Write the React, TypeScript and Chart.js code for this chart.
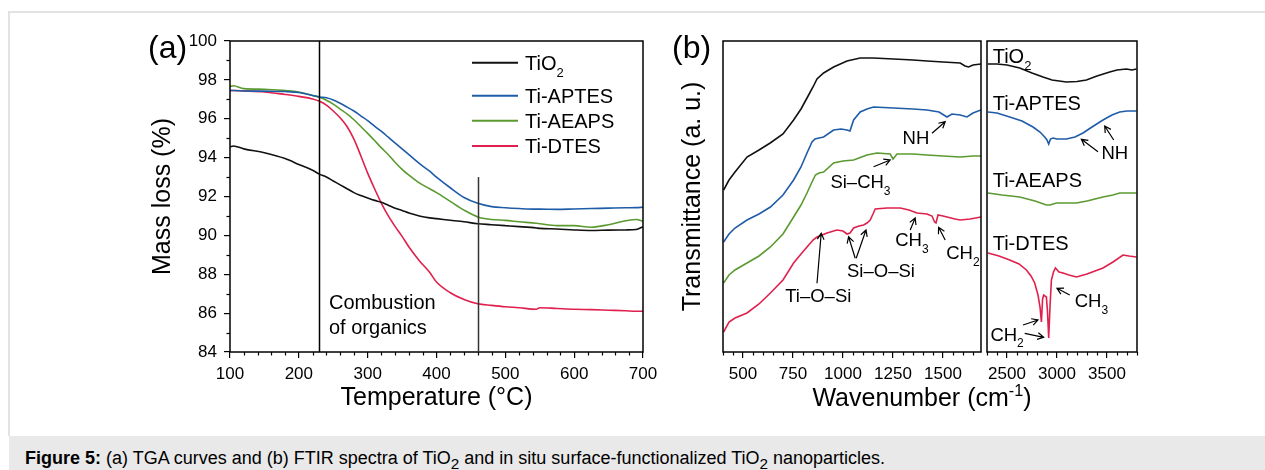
import React, { useEffect, useRef } from 'react';
import { Chart, registerables } from 'chart.js';

Chart.register(...registerables);

const FONT = "'Liberation Sans', Arial, Helvetica, sans-serif";
const C_BLACK = '#111111';
const C_BLUE = '#1f5ca8';
const C_GREEN = '#5b9a30';
const C_RED = '#e0204c';

// ---------------- (a) TGA data ----------------
const tgaTemp = [100, 105, 120, 150, 180, 200, 220, 230, 240, 250, 260, 270, 280, 290, 300, 310, 320, 330, 340, 350, 360, 375, 390, 400, 420, 440, 460, 480, 500, 520, 545, 550, 575, 600, 625, 650, 675, 690, 700];
const tgaTiO2 = [94.55, 94.6, 94.45, 94.25, 93.95, 93.65, 93.35, 93.15, 93.0, 92.8, 92.6, 92.4, 92.2, 92.05, 91.92, 91.8, 91.7, 91.55, 91.4, 91.28, 91.15, 91.0, 90.9, 90.86, 90.78, 90.7, 90.6, 90.55, 90.5, 90.45, 90.38, 90.36, 90.33, 90.28, 90.25, 90.27, 90.28, 90.3, 90.45];
const tgaAPTES = [97.45, 97.45, 97.43, 97.42, 97.4, 97.35, 97.2, 97.12, 97.08, 96.97, 96.8, 96.6, 96.4, 96.15, 95.9, 95.62, 95.35, 95.05, 94.75, 94.45, 94.15, 93.7, 93.3, 93.0, 92.45, 91.95, 91.65, 91.48, 91.42, 91.38, 91.35, 91.35, 91.34, 91.36, 91.38, 91.4, 91.42, 91.43, 91.45];
const tgaAEAPS = [97.65, 97.7, 97.55, 97.52, 97.45, 97.38, 97.2, 97.1, 96.95, 96.75, 96.5, 96.25, 95.95, 95.6, 95.25, 94.88, 94.5, 94.15, 93.75, 93.4, 93.1, 92.7, 92.4, 92.2, 91.75, 91.3, 90.95, 90.82, 90.77, 90.7, 90.62, 90.6, 90.5, 90.5, 90.42, 90.55, 90.75, 90.82, 90.72];
const tgaDTES = [97.45, 97.45, 97.43, 97.38, 97.25, 97.15, 97.02, 96.9, 96.7, 96.4, 96.05, 95.6, 94.95, 94.1, 93.2, 92.4, 91.65, 91.0, 90.45, 89.95, 89.4, 88.7, 88.1, 87.6, 87.05, 86.7, 86.48, 86.4, 86.33, 86.28, 86.2, 86.28, 86.24, 86.2, 86.18, 86.15, 86.12, 86.1, 86.1];
const tgaXTicks = [100, 200, 300, 400, 500, 600, 700];
const tgaYTicks = [84, 86, 88, 90, 92, 94, 96, 98, 100];
const combustionStart = 230;
const combustionEnd = 460;
const combustionEndTop = 93;
const tgaLegend = ['TiO2', 'Ti-APTES', 'Ti-AEAPS', 'Ti-DTES'];

// ---------------- (b) FTIR data (arbitrary units) ----------------
const wnL_TiO2 = [403, 430, 460, 520, 580, 636, 700, 753, 790, 820, 850, 870, 903, 953, 1020, 1086, 1150, 1253, 1350, 1420, 1500, 1586, 1610, 1628, 1650, 1690];
const trL_TiO2 = [162, 172, 180, 195, 202, 209, 218, 232, 243, 254, 265, 273, 279, 285, 291, 294, 294, 293, 292, 291, 290, 289, 286, 285, 287, 288];
const wnL_APTES = [403, 430, 460, 520, 580, 637, 700, 753, 790, 820, 845, 860, 880, 903, 953, 990, 1020, 1035, 1053, 1086, 1120, 1153, 1253, 1350, 1420, 1480, 1520, 1545, 1586, 1620, 1650, 1690];
const trL_APTES = [110, 118, 124, 132, 138, 145, 157, 172, 185, 199, 210, 213, 214, 215, 222, 223, 222, 221, 232, 240, 243, 245, 244, 243, 242, 240, 235, 238, 237, 235, 239, 242];
const wnL_AEAPS = [403, 430, 460, 520, 580, 637, 700, 753, 790, 820, 845, 862, 880, 903, 953, 1000, 1053, 1120, 1170, 1236, 1250, 1258, 1270, 1350, 1420, 1500, 1586, 1650, 1690];
const trL_AEAPS = [69, 77, 82, 89, 96, 105, 118, 135, 147, 159, 170, 177, 179, 180, 189, 191, 192, 197, 199, 198, 193, 195, 198, 198, 197, 196, 195, 196, 196];
const wnL_DTES = [403, 430, 460, 520, 580, 637, 700, 753, 790, 820, 850, 870, 920, 970, 1000, 1020, 1035, 1053, 1080, 1103, 1120, 1136, 1150, 1161, 1220, 1286, 1330, 1370, 1420, 1445, 1458, 1465, 1475, 1500, 1560, 1586, 1636, 1690];
const trL_DTES = [20, 30, 34, 39, 48, 59, 72, 89, 98, 105, 112, 115, 119, 122, 121, 118, 119, 124, 126, 127, 129, 132, 138, 143, 144, 144, 142, 139, 138, 136, 130, 129, 137, 136, 133, 132, 133, 135];

const wnR_TiO2 = [2310, 2400, 2500, 2627, 2750, 2860, 2950, 3094, 3200, 3294, 3400, 3527, 3600, 3694, 3750, 3794];
const trR_TiO2 = [288, 288, 287, 284, 279, 275, 272, 270, 270.5, 272, 276, 280, 282, 283, 282, 283];
const wnR_APTES = [2310, 2400, 2527, 2650, 2760, 2830, 2877, 2900, 2917, 2935, 2960, 3000, 3094, 3180, 3260, 3350, 3460, 3550, 3627, 3700, 3794];
const trR_APTES = [240, 239, 235, 231, 225, 220, 215, 212, 208, 213, 214, 213, 213, 215, 219, 225, 232, 237, 240, 241, 241];
const wnR_AEAPS = [2310, 2450, 2627, 2780, 2894, 2930, 2994, 3100, 3194, 3300, 3460, 3560, 3627, 3700, 3794];
const trR_AEAPS = [159, 157, 155, 151, 147, 147, 149, 149, 149, 151, 155, 157, 159, 159, 159];
const wnR_DTES = [2310, 2420, 2527, 2620, 2694, 2740, 2777, 2810, 2830, 2844, 2856, 2867, 2894, 2905, 2917, 2930, 2944, 2965, 2984, 3020, 3060, 3120, 3194, 3300, 3460, 3560, 3660, 3720, 3794];
const trR_DTES = [99, 96, 92, 88, 82, 76, 69, 57, 45, 30, 53, 57, 55, 40, 14, 45, 72, 80, 84, 80, 79, 77, 75, 78, 84, 90, 97, 96, 95];

const ftirLeftTicks = [500, 750, 1000, 1250, 1500];
const ftirRightTicks = [2500, 3000, 3500];
const ftirSeriesLabels = ['TiO2', 'Ti-APTES', 'Ti-AEAPS', 'Ti-DTES'];
const ftirSeriesLabelTr = [289.3, 242, 165.3, 102];

// annotations: [label, textWn, textTr, arrows [[wn1,tr1,wn2,tr2]...]]
const ftirLeftNotes: [string, number, number, number[][]][] = [
  ['NH', 1298, 208, [[1445, 218.7, 1511, 230.3]]],
  ['Si–CH3', 937, 163.7, [[1153, 185.3, 1236, 192]]],
  ['CH3', 1261, 106, [[1336, 122, 1361, 134]]],
  ['CH2', 1516, 92.7, [[1511, 112, 1478, 124.7]]],
  ['Si–O–Si', 1020, 74.7, [[1061, 93.7, 1028, 115.3], [1066, 93.7, 1115, 122]]],
  ['Ti–O–Si', 711, 50.3, [[870, 68.7, 891, 118.7]]],
];
const ftirRightNotes: [string, number, number, number[][]][] = [
  ['NH', 3444, 192.7, [[3410, 200.3, 3244, 212.7], [3567, 212, 3477, 226]]],
  ['CH3', 3177, 44.7, [[3127, 57, 3000, 63.7]]],
  ['CH2', 2334, 11.3, [[2660, 27, 2810, 32], [2677, 18.7, 2867, 14.7]]],
];

const seriesColors = [C_BLACK, C_BLUE, C_GREEN, C_RED];

function range(a: number, b: number, s: number) {
  const out: number[] = [];
  for (let v = a; v <= b + 1e-9; v += s) out.push(v);
  return out;
}

type Seg = { t: string; s?: 'sub' | 'sup' };
function chem(str: string): Seg[] {
  const segs: Seg[] = [];
  for (const ch of str) {
    const isDigit = /[0-9]/.test(ch);
    const last = segs[segs.length - 1];
    const kind = isDigit ? 'sub' : undefined;
    if (last && last.s === kind) last.t += ch;
    else segs.push({ t: ch, s: kind as any });
  }
  return segs;
}

function rich(ctx: CanvasRenderingContext2D, segs: Seg[], x: number, y: number, size: number, align: 'left' | 'center' = 'left', color = '#000') {
  const small = size * 0.65;
  const f = (sz: number) => `${sz}px ${FONT}`;
  let total = 0;
  const widths = segs.map((sg) => {
    ctx.font = f(sg.s ? small : size);
    const w = ctx.measureText(sg.t).width;
    total += w;
    return w;
  });
  let cx = align === 'center' ? x - total / 2 : x;
  ctx.fillStyle = color;
  ctx.textAlign = 'left';
  ctx.textBaseline = 'alphabetic';
  segs.forEach((sg, i) => {
    ctx.font = f(sg.s ? small : size);
    const dy = sg.s === 'sub' ? size * 0.36 : sg.s === 'sup' ? -size * 0.42 : 0;
    ctx.fillText(sg.t, cx, y + dy);
    cx += widths[i];
  });
}

function seg(ctx: CanvasRenderingContext2D, x1: number, y1: number, x2: number, y2: number) {
  ctx.beginPath();
  ctx.moveTo(x1, y1);
  ctx.lineTo(x2, y2);
  ctx.stroke();
}

function arrow(ctx: CanvasRenderingContext2D, x1: number, y1: number, x2: number, y2: number) {
  const a = Math.atan2(y2 - y1, x2 - x1);
  const L = 7;
  const sp = 0.5;
  ctx.beginPath();
  ctx.moveTo(x1, y1);
  ctx.lineTo(x2, y2);
  ctx.moveTo(x2 - L * Math.cos(a - sp), y2 - L * Math.sin(a - sp));
  ctx.lineTo(x2, y2);
  ctx.lineTo(x2 - L * Math.cos(a + sp), y2 - L * Math.sin(a + sp));
  ctx.stroke();
}

function ds(label: string, xs: number[], ys: number[], color: string, smooth = false) {
  return {
    label,
    data: xs.map((x, i) => ({ x, y: ys[i] })),
    borderColor: color,
    backgroundColor: color,
    borderWidth: 1.6,
    pointRadius: 0,
    tension: 0,
    cubicInterpolationMode: smooth ? 'monotone' : 'default',
    fill: false,
  };
}

const tickFont = { family: FONT, size: 17 };

function xAxis(min: number, max: number, major: number[], height: number, title?: string) {
  return {
    type: 'linear',
    bounds: 'data',
    min,
    max,
    afterBuildTicks: (s: any) => {
      s.ticks = major.map((v) => ({ value: v }));
    },
    afterFit: (s: any) => {
      s.height = height;
    },
    ticks: { autoSkip: false, maxRotation: 0, minRotation: 0, font: tickFont, color: '#000', padding: 6, callback: (v: any) => String(v) },
    grid: { display: true, drawOnChartArea: false, drawTicks: true, tickLength: 6, color: '#000', lineWidth: 1.2 },
    border: { display: false },
    title: title
      ? { display: true, text: title, color: '#000', font: { family: FONT, size: 25, lineHeight: 1 }, padding: { top: 0, bottom: 2 } }
      : { display: false },
  };
}

function yAxis(min: number, max: number, major: number[] | null, width: number, title?: string, titlePad = 0) {
  return {
    type: 'linear',
    bounds: 'data',
    min,
    max,
    afterBuildTicks: (s: any) => {
      s.ticks = (major || []).map((v) => ({ value: v }));
    },
    afterFit: (s: any) => {
      s.width = width;
    },
    ticks: { display: !!major, autoSkip: false, font: tickFont, color: '#000', padding: 7, callback: (v: any) => String(v) },
    grid: { display: !!major, drawOnChartArea: false, drawTicks: true, tickLength: 6, color: '#000', lineWidth: 1.2 },
    border: { display: false },
    title: title
      ? { display: true, text: title, color: '#000', font: { family: FONT, size: 25, lineHeight: 1 }, padding: { top: titlePad, bottom: 0 } }
      : { display: false },
  };
}

// Plugin: frame box + minor ticks + custom overlay drawing
function framePlugin(xMinor: number[], yMinor: number[], overlay: (ctx: CanvasRenderingContext2D, chart: any) => void) {
  return {
    id: 'frameOverlay',
    afterDraw(chart: any) {
      const { ctx, chartArea: a } = chart;
      ctx.save();
      ctx.strokeStyle = '#000';
      ctx.lineWidth = 1.5;
      ctx.strokeRect(a.left, a.top, a.right - a.left, a.bottom - a.top);
      ctx.lineWidth = 1.2;
      const xs = chart.scales.x;
      const ys = chart.scales.y;
      xMinor.forEach((v) => {
        const px = Math.round(xs.getPixelForValue(v)) + 0.5;
        seg(ctx, px, a.bottom, px, a.bottom + 3.5);
      });
      yMinor.forEach((v) => {
        const py = Math.round(ys.getPixelForValue(v)) + 0.5;
        seg(ctx, a.left - 3.5, py, a.left, py);
      });
      overlay(ctx, chart);
      ctx.restore();
    },
  };
}

function baseOptions(padding: any, scales: any) {
  return {
    responsive: false,
    maintainAspectRatio: false,
    animation: false,
    devicePixelRatio: 1,
    events: [],
    layout: { padding },
    plugins: { legend: { display: false }, tooltip: { enabled: false }, title: { display: false } },
    scales,
  };
}

function configA(): any {
  const overlay = (ctx: CanvasRenderingContext2D, chart: any) => {
    const xs = chart.scales.x;
    const ys = chart.scales.y;
    ctx.lineWidth = 1.5;
    ctx.strokeStyle = '#000';
    const x1 = Math.round(xs.getPixelForValue(combustionStart)) + 0.5;
    seg(ctx, x1, ys.getPixelForValue(100), x1, ys.getPixelForValue(84));
    ctx.strokeStyle = '#333';
    const x2 = Math.round(xs.getPixelForValue(combustionEnd)) + 0.5;
    seg(ctx, x2, ys.getPixelForValue(combustionEndTop), x2, ys.getPixelForValue(84));
    // legend
    const lineY = [62.7, 95.7, 120.7, 146];
    const baseY = [70, 102.7, 127.7, 152.7];
    tgaLegend.forEach((lab, i) => {
      ctx.strokeStyle = seriesColors[i];
      ctx.lineWidth = 2;
      seg(ctx, 472, lineY[i], 518, lineY[i]);
      rich(ctx, chem(lab), 525, baseY[i], 20);
    });
    rich(ctx, [{ t: 'Combustion' }], 329, 309.3, 20);
    rich(ctx, [{ t: 'of organics' }], 329, 334, 20);
    rich(ctx, [{ t: '(a)' }], 148, 58, 32);
  };
  return {
    type: 'line',
    data: {
      datasets: [
        ds('TiO2', tgaTemp, tgaTiO2, C_BLACK, true),
        ds('Ti-APTES', tgaTemp, tgaAPTES, C_BLUE, true),
        ds('Ti-AEAPS', tgaTemp, tgaAEAPS, C_GREEN, true),
        ds('Ti-DTES', tgaTemp, tgaDTES, C_RED, true),
      ],
    },
    options: baseOptions(
      { left: 150, right: 622, top: 41, bottom: 57 },
      {
        x: xAxis(100, 700, tgaXTicks, 61, 'Temperature (°C)'),
        y: yAxis(84, 100, tgaYTicks, 80, 'Mass loss (%)', 0.5),
      }
    ),
    plugins: [
      framePlugin(range(100, 700, 20).filter((v) => v % 100 !== 0), range(85, 99, 2), overlay),
    ],
  };
}

function drawNotes(ctx: CanvasRenderingContext2D, chart: any, notes: [string, number, number, number[][]][]) {
  const xs = chart.scales.x;
  const ys = chart.scales.y;
  ctx.strokeStyle = '#000';
  ctx.lineWidth = 1.2;
  notes.forEach(([lab, wn, tr, arrows]) => {
    rich(ctx, chem(lab), xs.getPixelForValue(wn), ys.getPixelForValue(tr), 18.5);
    arrows.forEach(([a, b, c, d]) => {
      arrow(ctx, xs.getPixelForValue(a), ys.getPixelForValue(b), xs.getPixelForValue(c), ys.getPixelForValue(d));
    });
  });
}

function configBL(): any {
  const overlay = (ctx: CanvasRenderingContext2D, chart: any) => {
    drawNotes(ctx, chart, ftirLeftNotes);
    rich(ctx, [{ t: '(b)' }], 672, 58, 32);
    rich(ctx, [{ t: 'Wavenumber (cm' }, { t: '-1', s: 'sup' }, { t: ')' }], 922, 406, 25, 'center');
  };
  return {
    type: 'line',
    data: {
      datasets: [
        ds('TiO2', wnL_TiO2, trL_TiO2, C_BLACK),
        ds('Ti-APTES', wnL_APTES, trL_APTES, C_BLUE),
        ds('Ti-AEAPS', wnL_AEAPS, trL_AEAPS, C_GREEN),
        ds('Ti-DTES', wnL_DTES, trL_DTES, C_RED),
      ],
    },
    options: baseOptions(
      { left: 678, right: 284, top: 41, bottom: 62 },
      {
        x: xAxis(400, 1690, ftirLeftTicks, 56),
        y: yAxis(0, 311, null, 45, 'Transmittance (a. u.)', 2.5),
      }
    ),
    plugins: [framePlugin(range(400, 1650, 50).filter((v) => v % 250 !== 0), [], overlay)],
  };
}

function configBR(): any {
  const overlay = (ctx: CanvasRenderingContext2D, chart: any) => {
    const xs = chart.scales.x;
    const ys = chart.scales.y;
    ftirSeriesLabels.forEach((lab, i) => {
      rich(ctx, chem(lab), xs.getPixelForValue(2357), ys.getPixelForValue(ftirSeriesLabelTr[i]), 20);
    });
    drawNotes(ctx, chart, ftirRightNotes);
  };
  return {
    type: 'line',
    data: {
      datasets: [
        ds('TiO2', wnR_TiO2, trR_TiO2, C_BLACK),
        ds('Ti-APTES', wnR_APTES, trR_APTES, C_BLUE),
        ds('Ti-AEAPS', wnR_AEAPS, trR_AEAPS, C_GREEN),
        ds('Ti-DTES', wnR_DTES, trR_DTES, C_RED),
      ],
    },
    options: baseOptions(
      { left: 977, right: 128, top: 41, bottom: 62 },
      {
        x: xAxis(2300, 3800, ftirRightTicks, 56),
        y: yAxis(0, 311, null, 10),
      }
    ),
    plugins: [framePlugin(range(2300, 3800, 100).filter((v) => v % 500 !== 0), [], overlay)],
  };
}

export default function App() {
  const refA = useRef<HTMLCanvasElement>(null);
  const refBL = useRef<HTMLCanvasElement>(null);
  const refBR = useRef<HTMLCanvasElement>(null);

  useEffect(() => {
    const charts: Chart[] = [];
    if (refA.current) charts.push(new Chart(refA.current, configA()));
    if (refBL.current) charts.push(new Chart(refBL.current, configBL()));
    if (refBR.current) charts.push(new Chart(refBR.current, configBR()));
    return () => charts.forEach((c) => c.destroy());
  }, []);

  const canvasStyle: React.CSSProperties = { position: 'absolute', left: 0, top: 0, width: 1265, height: 470 };

  return (
    <div style={{ position: 'absolute', left: 0, top: 0, width: 1265, height: 470, background: '#fff', overflow: 'hidden', fontFamily: FONT }}>
      <div
        style={{
          position: 'absolute',
          left: 8,
          top: 11,
          width: 1270,
          height: 425,
          borderLeft: '2px solid #e2e2e2',
          borderTop: '2px solid #e2e2e2',
          boxSizing: 'border-box',
        }}
      />
      <canvas ref={refA} width={1265} height={470} style={canvasStyle} />
      <canvas ref={refBL} width={1265} height={470} style={canvasStyle} />
      <canvas ref={refBR} width={1265} height={470} style={canvasStyle} />
      <div style={{ position: 'absolute', left: 9, top: 436, width: 1256, height: 34, background: '#e9e9e9' }} />
      <div
        style={{
          position: 'absolute',
          left: 25,
          top: 448,
          fontFamily: FONT,
          fontSize: 18,
          lineHeight: '20px',
          whiteSpace: 'nowrap',
          color: '#000',
        }}
      >
        <b>Figure 5:</b> (a) TGA curves and (b) FTIR spectra of TiO
        <span style={{ fontSize: '0.85em', position: 'relative', top: '0.3em' }}>2</span> and in situ surface-functionalized TiO
        <span style={{ fontSize: '0.85em', position: 'relative', top: '0.3em' }}>2</span> nanoparticles.
      </div>
    </div>
  );
}
